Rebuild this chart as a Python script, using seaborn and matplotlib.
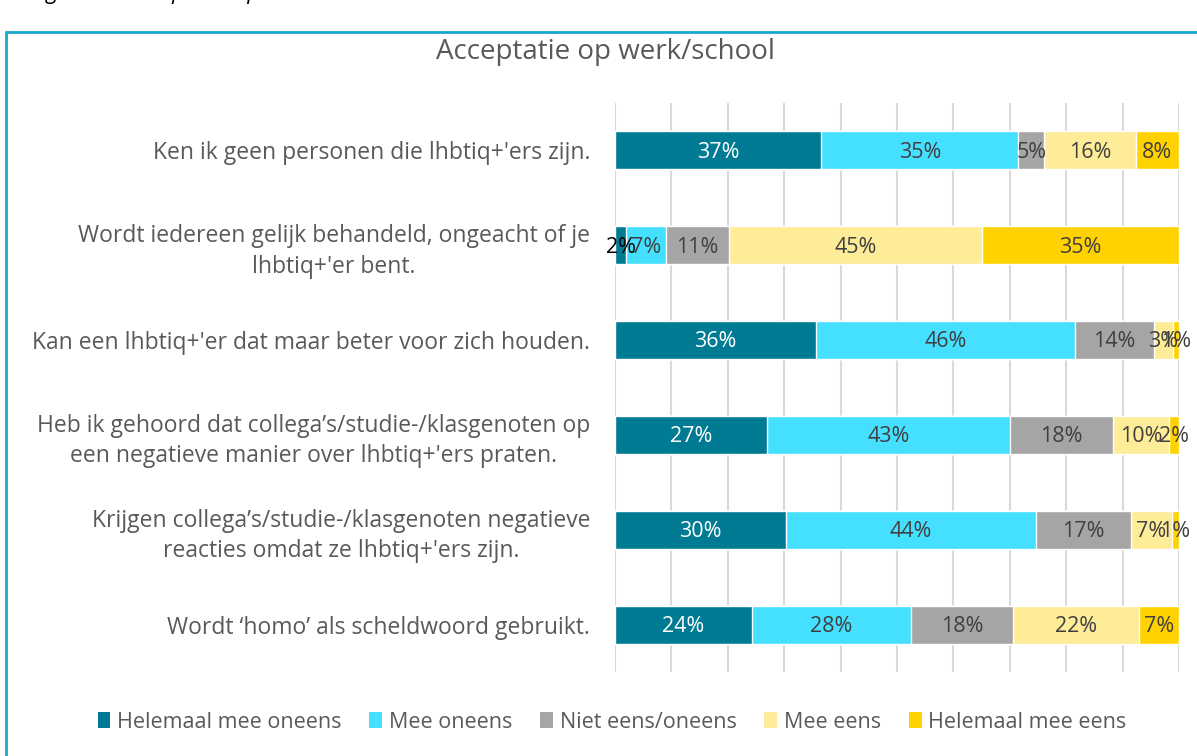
import numpy as np
import pandas as pd
import matplotlib
matplotlib.use("Agg")
import matplotlib.pyplot as plt
from matplotlib.patches import Rectangle, Patch
import seaborn as sns

# statements (top to bottom)
statements = [
    "Ken ik geen personen die lhbtiq+'ers zijn.",
    "Wordt iedereen gelijk behandeld, ongeacht of je\nlhbtiq+'er bent.",
    "Kan een lhbtiq+'er dat maar beter voor zich houden.",
    "Heb ik gehoord dat collega\u2019s/studie-/klasgenoten op\neen negatieve manier over lhbtiq+'ers praten.",
    "Krijgen collega\u2019s/studie-/klasgenoten negatieve\nreacties omdat ze lhbtiq+'ers zijn.",
    "Wordt \u2018homo\u2019 als scheldwoord gebruikt.",
]

answers = ["Helemaal mee oneens", "Mee oneens", "Niet eens/oneens",
           "Mee eens", "Helemaal mee eens"]

# percentages per answer, one value per statement
helemaal_oneens = [36.6, 2.0, 35.6, 27.0, 30.4, 24.3]
mee_oneens = [34.9, 7.0, 45.9, 43.0, 44.2, 28.2]
neutraal = [4.6, 11.2, 14.0, 18.3, 16.9, 18.0]
mee_eens = [16.2, 44.8, 3.4, 10.0, 7.2, 22.4]
helemaal_eens = [7.7, 35.0, 1.1, 1.7, 1.3, 7.1]

colors = ["#007B93", "#45DFFF", "#A5A5A5", "#FFEC99", "#FFD200"]
label_colors = ["white", "#404040", "#404040", "#404040", "#404040"]

df = pd.DataFrame({
    "statement": statements,
    answers[0]: helemaal_oneens,
    answers[1]: mee_oneens,
    answers[2]: neutraal,
    answers[3]: mee_eens,
    answers[4]: helemaal_eens,
})
cum = df[answers].cumsum(axis=1)

sns.set_theme(style="white")
plt.rcParams["font.family"] = ["Open Sans", "DejaVu Sans"]

fig = plt.figure(figsize=(11.97, 7.56), dpi=100)
ax = fig.add_axes([615 / 1197, 1 - 672 / 756, 564 / 1197, 569 / 756])

# draw cumulative bars from the back so they appear stacked
for i in range(len(answers) - 1, -1, -1):
    sns.barplot(x=cum[answers[i]], y=df["statement"], color=colors[i],
                orient="h", width=0.4, saturation=1, ax=ax, zorder=2)

# segment labels
for i, a in enumerate(answers):
    left = cum[a] - df[a]
    for j in range(len(df)):
        v = df[a].iloc[j]
        c = label_colors[i]
        if i == 0 and v < 5:
            c = "black"
        ax.text(left.iloc[j] + v / 2, j + 0.02, f"{v:.0f}%", ha="center", va="center",
                fontsize=15.5, color=c, zorder=3, clip_on=False)

ax.set_xlim(0, 100)
ax.set_ylim(5.5, -0.5)
ax.set_xticks(np.arange(0, 101, 10))
ax.set_xticklabels([])
ax.grid(axis="x", color="#D9D9D9", linewidth=1.5, zorder=0)
ax.set_axisbelow(True)
ax.set_xlabel("")
ax.set_ylabel("")
for s in ax.spines.values():
    s.set_visible(False)
ax.tick_params(axis="y", length=0, pad=18, labelsize=16.5, labelcolor="#595959")
for lab in ax.get_yticklabels():
    lab.set_multialignment("center")
    lab.set_linespacing(1.35)

fig.text(606 / 1197, 1 - 52 / 756, "Acceptatie op werk/school", ha="center",
         va="center", fontsize=20, color="#595959")

# caption cut off at the top edge
fig.text(30 / 1197, 1 + 1 / 756, "Figuur 10 Acceptatie op werk/school",
         ha="left", va="baseline", fontsize=16, style="italic", color="black")

# chart border
fig.patches.append(Rectangle((6 / 1197, -0.1), 1.2, 1 - 32 / 756 + 0.1,
                             transform=fig.transFigure, fill=False,
                             edgecolor="#17A9C9", linewidth=2))

handles = [Patch(facecolor=c, edgecolor="none") for c in colors]
fig.legend(handles, answers, loc="center", bbox_to_anchor=(612 / 1197, 1 - 722 / 756),
           ncol=5, frameon=False, fontsize=15.5, handlelength=0.6, handleheight=0.7,
           handletextpad=0.3, columnspacing=1.3, labelcolor="#595959")

fig.savefig("out.png", dpi=100)
